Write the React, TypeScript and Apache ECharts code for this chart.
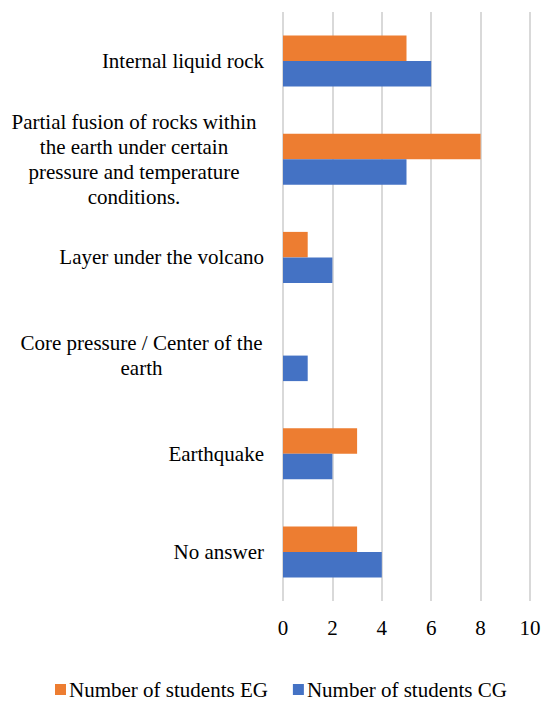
import React, { useEffect, useRef } from "react";
import * as echarts from "echarts";

const categories = [
  "Internal liquid rock",
  "Partial fusion of rocks within\nthe earth under certain\npressure and temperature\nconditions.",
  "Layer under the volcano",
  "Core pressure / Center of the\nearth",
  "Earthquake",
  "No answer",
];
const egValues = [5, 8, 1, 0, 3, 3];
const cgValues = [6, 5, 2, 1, 2, 4];
const seriesNames = ["Number of students EG", "Number of students CG"];

const FONT = "Liberation Serif";

export default function App() {
  const ref = useRef<HTMLDivElement>(null);
  useEffect(() => {
    document.body.style.margin = "0";
    const chart = echarts.init(ref.current!, null, { renderer: "svg" });
    chart.setOption({
      animation: false,
      textStyle: { fontFamily: FONT },
      grid: { left: 283, right: 14, top: 12, bottom: 100 },
      legend: {
        bottom: 1,
        left: 55,
        padding: 0,
        itemWidth: 11,
        itemHeight: 11,
        itemGap: 25,
        icon: "rect",
        textStyle: { fontFamily: FONT, fontSize: 21, color: "#000", padding: [0, 0, 0, -2] },
        data: seriesNames,
      },
      xAxis: {
        type: "value",
        min: 0,
        max: 10,
        interval: 2,
        axisLine: { show: false },
        axisTick: { show: false },
        axisLabel: { fontFamily: FONT, fontSize: 21, color: "#000", margin: 16 },
        splitLine: { lineStyle: { color: "#d9d9d9", width: 2 } },
      },
      yAxis: {
        type: "category",
        inverse: true,
        data: categories,
        axisLine: { show: false },
        axisTick: { show: false },
        axisLabel: {
          fontFamily: FONT,
          fontSize: 21,
          color: "#000",
          align: "right",
          margin: 19,
          lineHeight: 25,
          formatter: (v: string) => {
            const lines = v.split("\n");
            if (lines.length === 1) return v;
            const key = lines.length > 2 ? "a" : "b";
            return lines.map((l) => "{" + key + "|" + l + "}").join("\n");
          },
          rich: {
            a: {
              fontFamily: FONT,
              fontSize: 21,
              color: "#000",
              lineHeight: 25,
              width: 260,
              align: "center",
            },
            b: {
              fontFamily: FONT,
              fontSize: 21,
              color: "#000",
              lineHeight: 25,
              width: 245,
              align: "center",
            },
          },
        },
      },
      series: [
        {
          name: seriesNames[0],
          type: "bar",
          data: egValues,
          itemStyle: { color: "#ed7d31" },
          barGap: "0%",
          barCategoryGap: "48%",
        },
        {
          name: seriesNames[1],
          type: "bar",
          data: cgValues,
          itemStyle: { color: "#4472c4" },
          barGap: "0%",
          barCategoryGap: "48%",
        },
      ],
    });
    return () => chart.dispose();
  }, []);
  return <div ref={ref} style={{ width: 544, height: 701 }} />;
}
